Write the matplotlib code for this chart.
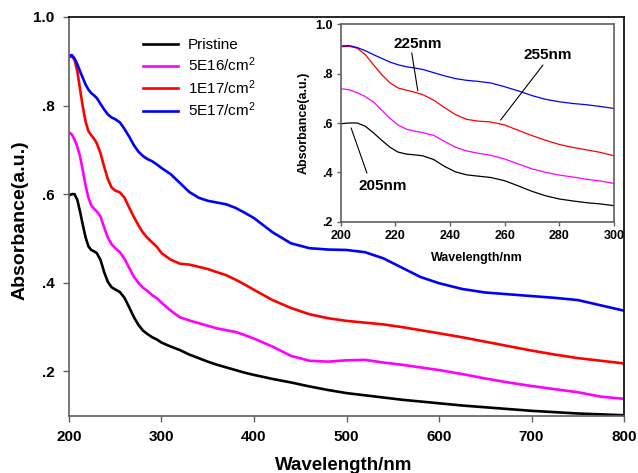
import matplotlib
matplotlib.use("Agg")
import matplotlib.pyplot as plt
from matplotlib.ticker import FixedLocator, FixedFormatter

plt.rcParams['font.family'] = ['Liberation Sans', 'DejaVu Sans']
plt.rcParams['mathtext.default'] = 'regular'

wavelength = [200, 203, 206, 209, 212, 215, 218, 221, 224, 227, 230, 234, 238, 242, 246, 250,
              255, 260, 265, 270, 275, 280, 285, 290, 295, 300, 310, 320, 330, 340, 350, 360,
              370, 380, 390, 400, 420, 440, 460, 480, 500, 520, 540, 560, 580, 600, 625, 650,
              675, 700, 725, 750, 775, 800]

pristine = [0.597, 0.600, 0.600, 0.587, 0.560, 0.530, 0.502, 0.482, 0.474, 0.471, 0.467, 0.452,
            0.424, 0.402, 0.390, 0.385, 0.379, 0.366, 0.345, 0.323, 0.305, 0.292, 0.284, 0.277,
            0.272, 0.265, 0.256, 0.248, 0.238, 0.230, 0.222, 0.215, 0.209, 0.203, 0.197, 0.192,
            0.183, 0.175, 0.166, 0.158, 0.151, 0.146, 0.141, 0.136, 0.132, 0.128, 0.123, 0.119,
            0.115, 0.111, 0.108, 0.105, 0.103, 0.101]

dose_5e16 = [0.739, 0.735, 0.723, 0.707, 0.685, 0.652, 0.619, 0.592, 0.575, 0.567, 0.561, 0.550,
             0.525, 0.502, 0.487, 0.478, 0.469, 0.454, 0.434, 0.414, 0.400, 0.389, 0.381, 0.372,
             0.365, 0.355, 0.337, 0.322, 0.315, 0.309, 0.303, 0.297, 0.293, 0.289, 0.282, 0.274,
             0.256, 0.235, 0.224, 0.222, 0.225, 0.226, 0.220, 0.215, 0.209, 0.203, 0.194, 0.184,
             0.175, 0.167, 0.160, 0.153, 0.143, 0.138]

dose_1e17 = [0.909, 0.911, 0.903, 0.877, 0.836, 0.796, 0.763, 0.742, 0.733, 0.725, 0.715, 0.693,
             0.662, 0.634, 0.615, 0.608, 0.604, 0.592, 0.570, 0.549, 0.530, 0.513, 0.501, 0.491,
             0.481, 0.467, 0.452, 0.443, 0.441, 0.436, 0.431, 0.424, 0.417, 0.407, 0.396, 0.384,
             0.361, 0.343, 0.329, 0.320, 0.314, 0.310, 0.306, 0.300, 0.293, 0.286, 0.277, 0.267,
             0.257, 0.247, 0.238, 0.230, 0.224, 0.218]

dose_5e17 = [0.912, 0.914, 0.906, 0.893, 0.877, 0.862, 0.847, 0.836, 0.828, 0.823, 0.817, 0.804,
             0.791, 0.780, 0.773, 0.769, 0.762, 0.747, 0.730, 0.711, 0.696, 0.686, 0.679, 0.674,
             0.667, 0.659, 0.645, 0.625, 0.605, 0.592, 0.585, 0.581, 0.577, 0.569, 0.558, 0.546,
             0.514, 0.489, 0.478, 0.475, 0.474, 0.469, 0.455, 0.434, 0.413, 0.399, 0.386, 0.378,
             0.374, 0.370, 0.366, 0.361, 0.349, 0.337]

series_labels = ['Pristine', '5E16/cm$^2$', '1E17/cm$^2$', '5E17/cm$^2$']
series_colors = ['black', '#ff00ff', '#ff0000', '#0000ff']
series_values = [pristine, dose_5e16, dose_1e17, dose_5e17]

main_xticks = [200, 300, 400, 500, 600, 700, 800]
main_yticks = [0.2, 0.4, 0.6, 0.8, 1.0]
main_yticklabels = ['.2', '.4', '.6', '.8', '1.0']
inset_xticks = [200, 220, 240, 260, 280, 300]
inset_yticks = [0.2, 0.4, 0.6, 0.8, 1.0]
inset_yticklabels = ['.2', '.4', '.6', '.8', '1.0']

peak_labels = ['205nm', '225nm', '255nm']
peak_points = [(203.8, 0.580), (228.2, 0.731), (258.5, 0.612)]
peak_line_starts = [(209.6, 0.397), (226.0, 0.884), (274.0, 0.835)]
peak_text_pos = [(215.3, 0.345), (228.3, 0.919), (275.7, 0.876)]

W, H = 638, 473
fig = plt.figure(figsize=(W / 100, H / 100), dpi=100)
GRAY = '#606060'

ax = fig.add_axes([69 / W, 1 - 415.7 / H, (624 - 69) / W, (415.7 - 16.9) / H])
for vals, col, lab in zip(series_values, series_colors, series_labels):
    ax.plot(wavelength, vals, color=col, lw=1.9, label=lab, solid_joinstyle='round')
ax.set_xlim(200, 800)
ax.set_ylim(0.1, 1.0)
ax.xaxis.set_major_locator(FixedLocator(main_xticks))
ax.yaxis.set_major_locator(FixedLocator(main_yticks))
ax.yaxis.set_major_formatter(FixedFormatter(main_yticklabels))
ax.tick_params(direction='out', length=4.5, width=1.0, color=GRAY, labelsize=11, pad=6)
for t in ax.get_xticklabels() + ax.get_yticklabels():
    t.set_fontweight('bold')
ax.spines['left'].set_color(GRAY)
ax.spines['bottom'].set_color(GRAY)
ax.spines['top'].set_color('black')
ax.spines['right'].set_color('black')
for s in ax.spines.values():
    s.set_linewidth(1.2)
ax.set_xlabel('Wavelength/nm', fontsize=13.5, fontweight='bold')
ax.set_ylabel('Absorbance(a.u.)', fontsize=14, fontweight='bold')
ax.xaxis.set_label_coords(0.495, -0.104)
ax.yaxis.set_label_coords(-0.073, 0.49)

leg = ax.legend(loc='upper left', bbox_to_anchor=((143 - 69) / 555, 1 - (38 - 16.9) / 398.8),
                frameon=False, fontsize=11, handlelength=2.3, handletextpad=0.65,
                labelspacing=0.25, borderpad=0, borderaxespad=0)

axi = fig.add_axes([340.7 / W, 1 - 221.7 / H, (614 - 340.7) / W, (221.7 - 24.3) / H])
for vals, col in zip(series_values, series_colors):
    axi.plot(wavelength, vals, color=col, lw=0.9, solid_joinstyle='round')
axi.set_xlim(200, 300)
axi.set_ylim(0.2, 1.0)
axi.xaxis.set_major_locator(FixedLocator(inset_xticks))
axi.yaxis.set_major_locator(FixedLocator(inset_yticks))
axi.yaxis.set_major_formatter(FixedFormatter(inset_yticklabels))
axi.tick_params(direction='out', length=3, width=1.0, color=GRAY, labelsize=9, pad=3)
for t in axi.get_xticklabels() + axi.get_yticklabels():
    t.set_fontweight('bold')
for s in axi.spines.values():
    s.set_color(GRAY)
    s.set_linewidth(1.2)
axi.set_xlabel('Wavelength/nm', fontsize=9, fontweight='bold')
axi.set_ylabel('Absorbance(a.u.)', fontsize=9, fontweight='bold')
axi.xaxis.set_label_coords(0.5, -0.155)
axi.yaxis.set_label_coords(-0.112, 0.5)

for lab, pt, st, tp in zip(peak_labels, peak_points, peak_line_starts, peak_text_pos):
    axi.annotate('', xy=pt, xytext=st,
                 arrowprops=dict(arrowstyle='-', color='black', lw=0.8, shrinkA=0, shrinkB=0))
    axi.text(tp[0], tp[1], lab, fontsize=11, fontweight='bold', ha='center', va='center')

fig.savefig('out.png', dpi=100)
